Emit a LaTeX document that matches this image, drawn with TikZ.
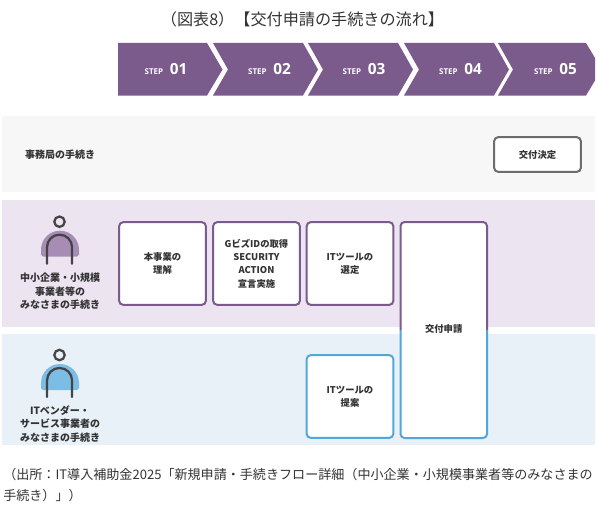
\documentclass[tikz,border=0pt]{standalone}
\usepackage{fontspec}
\usepackage{xcolor}
\setmainfont{Noto Sans CJK JP}
\newfontfamily\stepfont{Open Sans}
\definecolor{Plum}{HTML}{7B5A8C}
\definecolor{PlumRow}{HTML}{ECE4F1}
\definecolor{PlumDome}{HTML}{A78DB6}
\definecolor{SkyLine}{HTML}{52A6D8}
\definecolor{SkyRow}{HTML}{E8F1F8}
\definecolor{SkyDome}{HTML}{7CBDE6}
\definecolor{GreyRow}{HTML}{F7F7F7}
\definecolor{GreyLine}{HTML}{6C6C6C}
\definecolor{Ink}{HTML}{333333}
\definecolor{Figure}{HTML}{444444}
\tikzset{
  chevronfill/.style={fill=Plum, draw=none},
  stepnode/.style={text=white, font=\stepfont\bfseries, inner sep=0pt},
  rowlabel/.style={text=Ink, align=center, inner sep=0pt, font=\fontsize{7.5}{10}\selectfont\bfseries},
  boxlabel/.style={text=Ink, align=center, inner sep=0pt, font=\fontsize{7}{10}\selectfont\bfseries},
  plumbox/.style={boxlabel, rounded corners=3pt, draw=Plum, fill=white, line width=1.5pt, minimum width=65pt, minimum height=62pt},
  skybox/.style={plumbox, draw=SkyLine},
  greybox/.style={plumbox, draw=GreyLine, minimum height=26pt},
  textline/.style={text=Ink, inner sep=0pt, font=\fontsize{12.1}{15.75}\selectfont},
}

\begin{document}
\begin{tikzpicture}[x=0.75pt,y=-0.75pt]
\path[use as bounding box] (0,0) rectangle (598,510);
\fill[white] (0,0) rectangle (598,510);

% title
\node[textline] (title) at (302.5,19) {（図表8）【交付申請の手続きの流れ】};

% step band
\fill[chevronfill] (118,43) -- (207,43) -- (222.5,69.5) -- (207,95.5) -- (118,95.5) -- cycle;
\foreach \x in {213,308,404}{
  \fill[chevronfill] (\x,43) -- (\x+90,43) -- (\x+105,69.5) -- (\x+90,95.5) -- (\x,95.5) -- (\x+15,69.5) -- cycle;
}
\fill[chevronfill] (498,43) -- (586,43) -- (595,58) -- (595,80.5) -- (586,95.5) -- (498,95.5) -- (513,69.5) -- cycle;
\foreach \x/\num in {166/01,269.5/02,364/03,460.5/04,555.5/05}{
  \node[stepnode] (step\num) at (\x,69.5) {\fontsize{6}{8}\selectfont STEP\hspace{5pt}\fontsize{11.5}{14}\selectfont \num};
}

% rows
\fill[GreyRow] (2,116) rectangle (595,192);
\fill[PlumRow] (2,200) rectangle (595,327);
\fill[SkyRow] (2,334) rectangle (595,445);

% office row
\node[rowlabel] (office) at (60,154.5) {事務局の手続き};
\node[greybox] (decision) at (537.5,154.5) {交付決定};

% two figures
\foreach \y/\col in {221.7/PlumDome,355/SkyDome}{
  \fill[\col] (41,\y+28) arc[start angle=180,end angle=0,radius=14.25pt] -- (79,\y+33) -- (77,\y+35) -- (43,\y+35) -- (41,\y+33) -- cycle;
  \draw[Figure,line width=1.7pt] (59.5,\y) circle[radius=3.9pt];
  \draw[Figure,line width=1.7pt,line cap=round] (47,\y+42) -- (47,\y+25.5) arc[start angle=180,end angle=0,radius=9.4pt] -- (72,\y+42);
}
\node[rowlabel] (smb) at (60,291.5) {中小企業・小規模\\事業者等の\\みなさまの手続き};
\node[rowlabel] (vendor) at (60,424) {ITベンダー・\\サービス事業者の\\みなさまの手続き};

% task boxes
\node[plumbox] (understand) at (162.5,263.5) {本事業の\\理解};
\node[plumbox] (gbiz) at (256.5,263.5) {GビズIDの取得\\SECURITY\\ACTION\\宣言実施};
\node[plumbox] (select) at (350,263.5) {ITツールの\\選定};
\node[skybox] (propose) at (350,396.5) {ITツールの\\提案};

% shared box
\fill[white,rounded corners=3pt] (400.5,222) rectangle (487,438);
\draw[Plum,line width=1.5pt,rounded corners=3pt] (400.5,330) -- (400.5,222) -- (487,222) -- (487,330);
\draw[SkyLine,line width=1.5pt,rounded corners=3pt] (400.5,330) -- (400.5,438) -- (487,438) -- (487,330);
\node[boxlabel] (apply) at (443.7,329) {交付申請};

% source
\node[textline,anchor=north west,align=left,font=\fontsize{9.8}{15.75}\selectfont] (source) at (3,468) {（出所：IT導入補助金2025「新規申請・手続きフロー詳細（中小企業・小規模事業者等のみなさまの\\手続き）」）};
\end{tikzpicture}
\end{document}
